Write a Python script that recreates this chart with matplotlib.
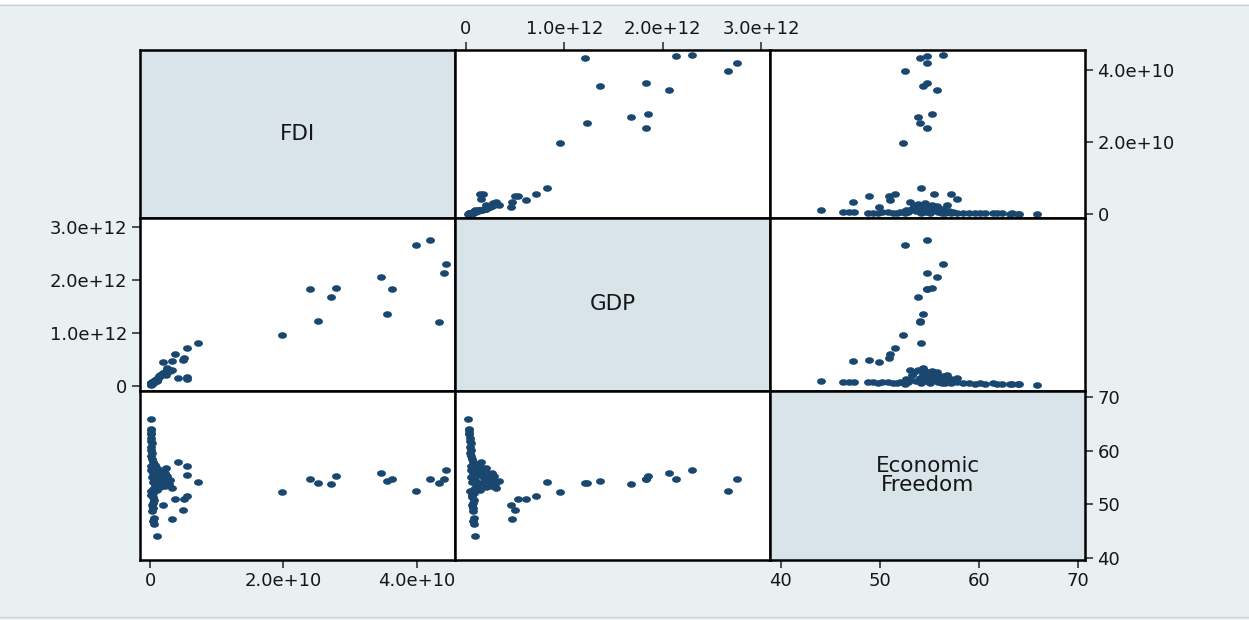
import matplotlib
matplotlib.use("Agg")
import matplotlib.pyplot as plt
from matplotlib.path import Path
from matplotlib.transforms import Affine2D
from matplotlib.patches import Rectangle
from matplotlib.lines import Line2D

plt.rcParams['font.family'] = ['DejaVu Sans']

# FDI inflows (billions USD), GDP (trillions USD), Economic Freedom index
fdi_bn = [
    19.8, 24.0, 25.2, 27.1, 27.9, 34.6, 35.5, 36.3, 39.9, 41.9, 43.3, 44.0, 44.3,
    7.2, 5.5, 3.8, 5.1, 5.0, 3.3, 1.9, 5.6, 5.6, 4.2,
    0.3, 0.2, 0.4, 0.3, 0.2, 0.3, 0.2, 0.2, 0.3, 0.2, 0.2, 0.1, 0.2, 0.1, 0.1, 0.1,
    1.1, 0.6, 0.5, 0.6, 0.3, 0.4, 0.3, 0.5, 0.6, 0.4, 0.2, 0.5,
    0.2, 0.5, 1.0, 1.5, 2.2, 0.8, 2.8, 1.2, 0.4, 1.8, 2.5, 3.0, 0.6, 1.4, 2.0,
    0.3, 2.6, 1.0, 1.7, 2.2, 0.5, 1.2, 0.8, 1.5, 0.2, 3.3, 0.9, 1.1, 2.4, 0.7,
]
gdp_tn = [
    0.96, 1.83, 1.23, 1.68, 1.85, 2.06, 1.36, 1.83, 2.66, 2.75, 1.21, 2.13, 2.30,
    0.82, 0.71, 0.61, 0.53, 0.50, 0.47, 0.46, 0.17, 0.14, 0.15,
    0.06, 0.05, 0.07, 0.06, 0.05, 0.04, 0.05, 0.04, 0.05, 0.04, 0.04, 0.03, 0.03, 0.03, 0.03, 0.02,
    0.09, 0.08, 0.07, 0.08, 0.07, 0.07, 0.06, 0.07, 0.08, 0.06, 0.06, 0.08,
    0.04, 0.08, 0.12, 0.20, 0.26, 0.10, 0.30, 0.15, 0.06, 0.22, 0.34, 0.28, 0.09, 0.18, 0.25,
    0.05, 0.29, 0.13, 0.21, 0.27, 0.07, 0.16, 0.11, 0.19, 0.05, 0.31, 0.12, 0.14, 0.20, 0.09,
]
econ_freedom = [
    52.3, 54.7, 54.0, 53.8, 55.3, 55.8, 54.3, 54.7, 52.5, 54.7, 54.0, 54.7, 56.4,
    54.1, 51.5, 51.0, 50.9, 48.9, 47.3, 49.9, 55.5, 57.2, 57.8,
    56.6, 57.2, 57.8, 58.4, 59.0, 59.6, 60.1, 60.6, 61.4, 61.8, 62.3, 63.1, 63.3, 63.9, 64.0, 65.9,
    44.0, 46.3, 46.9, 47.4, 48.8, 49.3, 49.8, 50.2, 50.8, 51.3, 51.7, 52.0,
    52.5, 52.8, 53.0, 53.2, 53.4, 53.6, 53.8, 54.0, 54.1, 54.3, 54.3, 54.5, 54.6, 54.8, 55.0,
    55.1, 55.3, 55.4, 55.6, 55.8, 55.9, 56.0, 56.2, 56.4, 56.3, 53.0, 57.0, 52.6, 56.8, 57.4,
]

var_labels = ["FDI", "GDP", "Economic\nFreedom"]

fdi_ticks = [0, 2e10, 4e10]
fdi_ticklabels = ["0", "2.0e+10", "4.0e+10"]
gdp_ticks = [0, 1e12, 2e12, 3e12]
gdp_ticklabels = ["0", "1.0e+12", "2.0e+12", "3.0e+12"]
ef_ticks = [40, 50, 60, 70]
ef_ticklabels = ["40", "50", "60", "70"]

series = [
    [v * 1e9 for v in fdi_bn],
    [v * 1e12 for v in gdp_tn],
    econ_freedom,
]

# axis ranges for each variable (horizontal use, vertical use)
xlims = [(-0.15e10, 4.57e10), (-0.11e12, 3.09e12), (38.9, 70.7)]
ylims = [(-0.11e10, 4.56e10), (-0.094e12, 3.17e12), (39.6, 71.1)]

BG = "#e8f0f2"
DIAG = "#d8e4ea"
NAVY = "#1a476f"
TXT = "#161616"

W, H = 1249, 620
fig = plt.figure(figsize=(W / 100, H / 100), dpi=100, facecolor=BG)

# thin white strip along the top edge
fig.patches.append(Rectangle((0, 1 - 4 / H), 1, 4 / H, transform=fig.transFigure,
                             facecolor="white", edgecolor="none"))
fig.lines.append(Line2D([0, 1], [1 - 4.5 / H, 1 - 4.5 / H], transform=fig.transFigure,
                        color="#c8cfd2", lw=0.8))
fig.lines.append(Line2D([0, 1], [3 / H, 3 / H], transform=fig.transFigure,
                        color="#c8cfd2", lw=0.8))

col_edges = [140, 455, 770, 1085]
row_edges = [50, 218, 391, 560]

marker = Path.unit_circle().transformed(Affine2D().scale(1.35, 1.0))

tick_kw = dict(direction="out", length=6, width=1.2, color="#333333",
               labelsize=13, labelcolor=TXT, pad=3)

axes = [[None] * 3 for _ in range(3)]
for r in range(3):
    for c in range(3):
        x0, x1 = col_edges[c], col_edges[c + 1]
        y0, y1 = row_edges[r], row_edges[r + 1]
        ax = fig.add_axes([x0 / W, 1 - y1 / H, (x1 - x0) / W, (y1 - y0) / H])
        axes[r][c] = ax
        ax.set_xlim(*xlims[c])
        ax.set_ylim(*ylims[r])
        for sp in ax.spines.values():
            sp.set_linewidth(1.8)
            sp.set_color("black")
        ax.tick_params(axis="both", which="both", left=False, right=False,
                       top=False, bottom=False, labelleft=False, labelright=False,
                       labeltop=False, labelbottom=False)
        if r == c:
            ax.set_facecolor(DIAG)
            ax.text(0.5, 0.5, var_labels[r], transform=ax.transAxes,
                    ha="center", va="center", fontsize=15.5, color=TXT,
                    linespacing=0.95)
        else:
            ax.set_facecolor("white")
            ax.scatter(series[c], series[r], s=41, marker=marker, c=NAVY,
                       linewidths=0, clip_on=False, zorder=2)

# GDP scale along the top
ax = axes[0][1]
ax.set_xticks(gdp_ticks, gdp_ticklabels)
ax.tick_params(axis="x", top=True, labeltop=True, **tick_kw)

# FDI scale on the right of the first row
ax = axes[0][2]
ax.set_yticks(fdi_ticks, fdi_ticklabels)
ax.tick_params(axis="y", right=True, labelright=True, **tick_kw)

# GDP scale on the left of the second row
ax = axes[1][0]
ax.set_yticks(gdp_ticks, gdp_ticklabels)
ax.tick_params(axis="y", left=True, labelleft=True, **tick_kw)

# Economic Freedom scales (right and bottom)
ax = axes[2][2]
ax.set_yticks(ef_ticks, ef_ticklabels)
ax.set_xticks(ef_ticks, ef_ticklabels)
ax.tick_params(axis="y", right=True, labelright=True, **tick_kw)
ax.tick_params(axis="x", bottom=True, labelbottom=True, **tick_kw)

# FDI scale along the bottom
ax = axes[2][0]
ax.set_xticks(fdi_ticks, fdi_ticklabels)
ax.tick_params(axis="x", bottom=True, labelbottom=True, **tick_kw)

fig.savefig("out.png", dpi=100, facecolor=BG)
